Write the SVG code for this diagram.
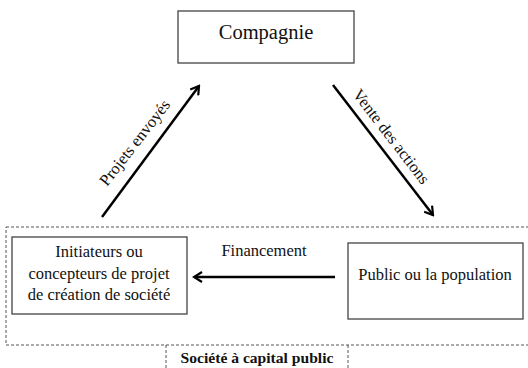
<svg xmlns="http://www.w3.org/2000/svg" width="528" height="368" viewBox="0 0 528 368">
<defs>
<style>
.box{fill:#fff;stroke:#444;stroke-width:1.3}
.dash{fill:none;stroke:#555;stroke-width:1;stroke-dasharray:3,2}
.t{font-family:"Liberation Serif","DejaVu Serif",serif;font-size:16.5px;fill:#111;text-anchor:middle}
.big{font-size:20.5px}
.b{font-weight:bold;font-size:15.6px}
.arr{stroke:#000;stroke-width:2.5;fill:none}
</style>
<marker id="ah" viewBox="0 0 12 12" refX="10" refY="6" markerWidth="12" markerHeight="12" markerUnits="userSpaceOnUse" orient="auto">
<path d="M2,1 L10,6 L2,11" fill="none" stroke="#000" stroke-width="2.2"/>
</marker>
</defs>
<rect width="528" height="368" fill="#fff"/>
<g id="societe">
<rect class="dash" x="6" y="227" width="530" height="118"/>
<path class="dash" d="M166,345 V370 M348,345 V370"/>
<text class="t b" x="257" y="363">Société à capital public</text>
</g>
<g id="compagnie">
<rect class="box" x="178" y="11" width="176" height="52"/>
<text class="t big" x="266" y="39">Compagnie</text>
</g>
<g id="initiateurs">
<rect class="box" x="12" y="237" width="175" height="77"/>
<text class="t" x="99" y="257">Initiateurs ou</text>
<text class="t" x="99" y="279">concepteurs de projet</text>
<text class="t" x="99" y="300">de création de société</text>
</g>
<g id="public">
<rect class="box" x="348" y="243" width="175" height="76"/>
<text class="t" x="435" y="280">Public ou la population</text>
</g>
<g id="connectors">
<line class="arr" x1="102" y1="217" x2="199" y2="86" marker-end="url(#ah)"/>
<line class="arr" x1="333" y1="85" x2="433" y2="215" marker-end="url(#ah)"/>
<line class="arr" x1="335" y1="277" x2="194" y2="277" marker-end="url(#ah)"/>
<text class="t" transform="translate(139,146) rotate(-52)">Projets envoyés</text>
<text class="t" transform="translate(387,140) rotate(52.4)">Vente des actions</text>
<text class="t" x="264" y="256">Financement</text>
</g>
</svg>
